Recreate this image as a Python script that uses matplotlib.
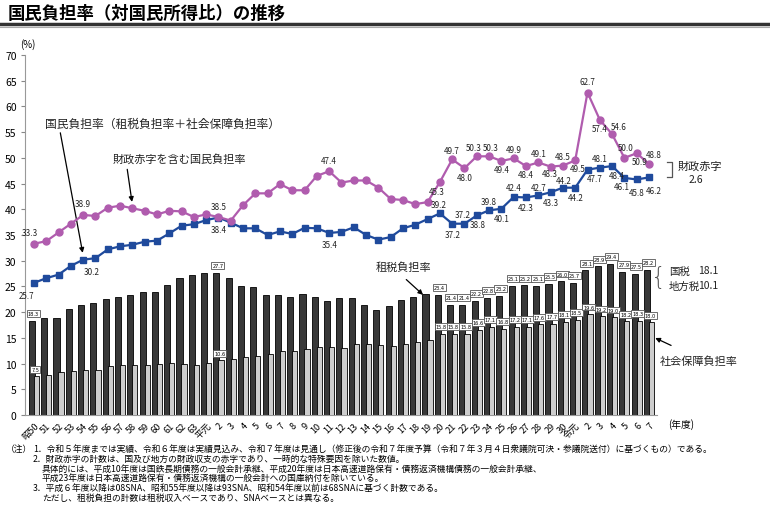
import matplotlib
matplotlib.use("Agg")
import matplotlib.pyplot as plt
from matplotlib.lines import Line2D
import numpy as np

plt.rcParams['font.family'] = ['Noto Sans CJK JP', 'DejaVu Sans']

# 年度ラベル（昭和50〜令和7）
years = (['昭50'] + [str(y) for y in range(51, 64)] + ['平元'] + [str(y) for y in range(2, 31)]
         + ['令元'] + [str(y) for y in range(2, 8)])

# 租税負担率
tax = [18.3, 18.8, 18.9, 20.6, 21.4, 21.7, 22.6, 23.0, 23.3, 24.0,
       24.0, 25.2, 26.7, 27.2, 27.7, 27.7, 26.6, 25.1, 24.8, 23.3,
       23.4, 23.0, 23.5, 23.0, 22.2, 22.8, 22.8, 21.3, 20.5, 21.1,
       22.4, 23.0, 23.5, 23.4, 21.4, 21.4, 22.2, 22.8, 23.2, 25.1,
       25.2, 25.1, 25.5, 26.0, 25.7, 28.1, 28.9, 29.4, 27.9, 27.5, 28.2]

# 社会保障負担率
social = [7.5, 7.8, 8.3, 8.5, 8.8, 8.8, 9.6, 9.8, 9.7, 9.8,
          10.0, 10.1, 10.0, 9.8, 10.1, 10.6, 10.8, 11.2, 11.5, 11.8,
          12.4, 12.4, 12.9, 13.3, 13.2, 13.1, 13.8, 13.9, 13.7, 13.5,
          13.8, 14.1, 14.5, 15.8, 15.8, 15.8, 16.6, 17.1, 16.8, 17.2,
          17.1, 17.6, 17.7, 18.1, 18.5, 19.6, 19.2, 19.0, 18.2, 18.3, 18.0]

# 国民負担率
burden = [25.7, 26.6, 27.3, 29.0, 30.2, 30.5, 32.2, 32.8, 33.1, 33.7,
          33.9, 35.3, 36.8, 37.1, 37.9, 38.4, 37.4, 36.3, 36.3, 35.0,
          35.7, 35.2, 36.4, 36.3, 35.4, 35.6, 36.5, 35.0, 34.1, 34.6,
          36.3, 37.0, 38.1, 39.2, 37.2, 37.2, 38.8, 39.8, 40.1, 42.4,
          42.3, 42.7, 43.3, 44.2, 44.2, 47.7, 48.1, 48.4, 46.1, 45.8, 46.2]

# 財政赤字を含む国民負担率
with_deficit = [33.3, 33.8, 35.5, 37.2, 38.9, 38.7, 40.3, 40.7, 40.2, 39.7,
                39.0, 39.7, 39.6, 38.5, 39.0, 38.5, 37.8, 40.8, 43.1, 43.1,
                44.9, 43.7, 43.7, 46.5, 47.4, 45.2, 45.6, 45.6, 44.2, 42.0,
                41.8, 41.0, 41.4, 45.3, 49.7, 48.0, 50.3, 50.3, 49.4, 49.9,
                48.4, 49.1, 48.3, 48.5, 49.5, 62.7, 57.4, 54.6, 50.0, 50.9, 48.8]

# ラベルを付ける年度の位置
bar_label_idx = [0, 15] + list(range(33, 51))

# 線ラベルの位置（index, dx px, dy px）
deficit_label_pos = [(0, -4, 11), (4, 0, 11), (15, 0, 11), (24, 0, 11), (33, -3, -9),
                     (34, 0, 9), (35, 0, -9), (36, -3, 9), (37, 2, 9), (38, 0, -9),
                     (39, 0, 9), (40, 0, -8), (41, 0, 9), (42, -1, -7), (43, 0, 9),
                     (44, 2, -8), (45, 0, 11), (46, 0, -9), (47, 7, 8), (48, 1, 10),
                     (49, 3, -8), (50, 5, 10)]
burden_label_pos = [(0, -7, -13), (4, 8, -12), (15, 0, -12), (24, 0, -12), (33, -1, 9),
                    (34, 0, -11), (35, -2, 9), (36, 1, -9), (37, 0, 9), (38, 0, -10),
                    (39, 0, 9), (40, 0, -10), (41, 0, 8), (42, 0, -10), (43, 1, 7),
                    (44, 0, -10), (45, 7, -9), (46, 0, 9), (47, 5, -9), (48, -3, -9),
                    (49, 0, -13), (50, 5, -13)]

x = np.arange(len(years))
px = 0.72  # 1 pixel in points

fig = plt.figure(figsize=(7.7, 5.06), dpi=100)
ax = fig.add_axes([25 / 770, 90 / 506, 632 / 770, 360 / 506])

ax.bar(x - 0.17, tax, width=0.5, color='#383838', edgecolor='black', linewidth=0.6, zorder=2)
ax.bar(x + 0.2, social, width=0.42, color='#cdcdcd', edgecolor='black', linewidth=0.6, zorder=3)

ax.plot(x, burden, color='#1f4a9c', lw=1.6, marker='s', ms=5, zorder=5)
ax.plot(x, with_deficit, color='#b05cae', lw=1.6, marker='o', ms=5, zorder=5)

box = dict(boxstyle='square,pad=0.18', facecolor='white', edgecolor='#555555', lw=0.6)
for i in bar_label_idx:
    ax.text(x[i] - 0.05, tax[i] + 1.4, f'{tax[i]:.1f}', fontsize=3.6, ha='center', va='center',
            bbox=box, zorder=6, family='DejaVu Sans')
    ax.text(x[i] + 0.1, social[i] + 1.4, f'{social[i]:.1f}', fontsize=3.6, ha='center', va='center',
            bbox=box, zorder=6, family='DejaVu Sans')

for i, dx, dy in deficit_label_pos:
    ax.annotate(f'{with_deficit[i]:.1f}', (x[i], with_deficit[i]), xytext=(dx * px, dy * px),
                textcoords='offset points', ha='center', va='center', fontsize=5.8,
                color='#222222', annotation_clip=False, zorder=7)
for i, dx, dy in burden_label_pos:
    ax.annotate(f'{burden[i]:.1f}', (x[i], burden[i]), xytext=(dx * px, dy * px),
                textcoords='offset points', ha='center', va='center', fontsize=5.8,
                color='#222222', annotation_clip=False, zorder=7)

ax.set_xlim(-0.73, 50.65)
ax.set_ylim(0, 70)
ax.set_yticks(range(0, 71, 5))
ax.tick_params(axis='y', labelsize=7.5, length=3, color='#888888', pad=3)
ax.set_xticks(x)
ax.set_xticklabels(years, rotation=45, ha='right', rotation_mode='anchor', fontsize=6.6)
ax.tick_params(axis='x', length=0, pad=4)
for s in ['top', 'right']:
    ax.spines[s].set_visible(False)
for s in ['left', 'bottom']:
    ax.spines[s].set_color('#999999')
    ax.spines[s].set_linewidth(0.8)

ax.text(-0.5, 72.3, '(%)', fontsize=7, ha='center', va='center', clip_on=False)
ax.text(52.6, -1.6, '(年度)', fontsize=7, ha='center', va='center', clip_on=False)

arrow = dict(arrowstyle='-|>', color='black', lw=0.9, mutation_scale=7)
ax.annotate('', xy=(4.0, 31.0), xytext=(2.1, 55.4), arrowprops=arrow, annotation_clip=False)
ax.text(0.9, 56.8, '国民負担率（租税負担率＋社会保障負担率）', fontsize=8.5, va='center', color='#222222')
ax.annotate('', xy=(8.0, 40.9), xytext=(7.55, 48.3), arrowprops=arrow, annotation_clip=False)
ax.text(6.4, 49.9, '財政赤字を含む国民負担率', fontsize=8, va='center', color='#222222')
ax.annotate('', xy=(31.8, 23.0), xytext=(30.1, 26.7), arrowprops=arrow, annotation_clip=False)
ax.text(27.8, 28.9, '租税負担率', fontsize=8, va='center', color='#222222')
ax.annotate('', xy=(50.3, 15.2), xytext=(52.0, 13.3), arrowprops=arrow, annotation_clip=False)
ax.text(50.9, 10.5, '社会保障負担率', fontsize=8, va='center', color='#222222', clip_on=False)

ax.text(50.75, 26.8, '{', fontsize=17, va='center', ha='center', color='#555555',
        family='DejaVu Sans', fontweight='light', clip_on=False)
ax.text(51.6, 28.1, '国税', fontsize=7.5, va='center', color='#222222', clip_on=False)
ax.text(54.0, 28.1, '18.1', fontsize=7.5, va='center', color='#222222', clip_on=False)
ax.text(51.6, 25.2, '地方税', fontsize=7.5, va='center', color='#222222', clip_on=False)
ax.text(54.0, 25.2, '10.1', fontsize=7.5, va='center', color='#222222', clip_on=False)

ax.plot([51.45, 51.85, 51.85, 51.45], [49.2, 49.2, 46.3, 46.3], color='#555555', lw=0.9,
        clip_on=False)
ax.text(52.3, 48.5, '財政赤字', fontsize=8, va='center', color='#222222', clip_on=False)
ax.text(53.8, 45.8, '2.6', fontsize=7.5, va='center', ha='center', color='#222222', clip_on=False)

fig.text(8 / 770, 1 - 14 / 506, '国民負担率（対国民所得比）の推移', fontsize=12.5,
         fontweight='bold', va='center')
fig.add_artist(Line2D([0, 1], [1 - 25 / 506] * 2, lw=2.5, color='#333333'))
fig.add_artist(Line2D([0, 1], [1 - 27.5 / 506] * 2, lw=0.8, color='#aaaaaa'))

notes = [
    (33, 449, '1．令和５年度までは実績、令和６年度は実績見込み、令和７年度は見通し（修正後の令和７年度予算（令和７年３月４日衆議院可決・参議院送付）に基づくもの）である。'),
    (33, 459, '2．財政赤字の計数は、国及び地方の財政収支の赤字であり、一時的な特殊要因を除いた数値。'),
    (42, 469, '具体的には、平成10年度は国鉄長期債務の一般会計承継、平成20年度は日本高速道路保有・債務返済機構債務の一般会計承継、'),
    (42, 478, '平成23年度は日本高速道路保有・債務返済機構の一般会計への国庫納付を除いている。'),
    (33, 488, '3．平成６年度以降は08SNA、昭和55年度以降は93SNA、昭和54年度以前は68SNAに基づく計数である。'),
    (42, 498, 'ただし、租税負担の計数は租税収入ベースであり、SNAベースとは異なる。'),
]
fig.text(6 / 770, 1 - 449 / 506, '（注）', fontsize=6.3, va='center')
for nx, ny, t in notes:
    fig.text(nx / 770, 1 - ny / 506, t, fontsize=6.3, va='center')

fig.savefig('out.png', dpi=100)
